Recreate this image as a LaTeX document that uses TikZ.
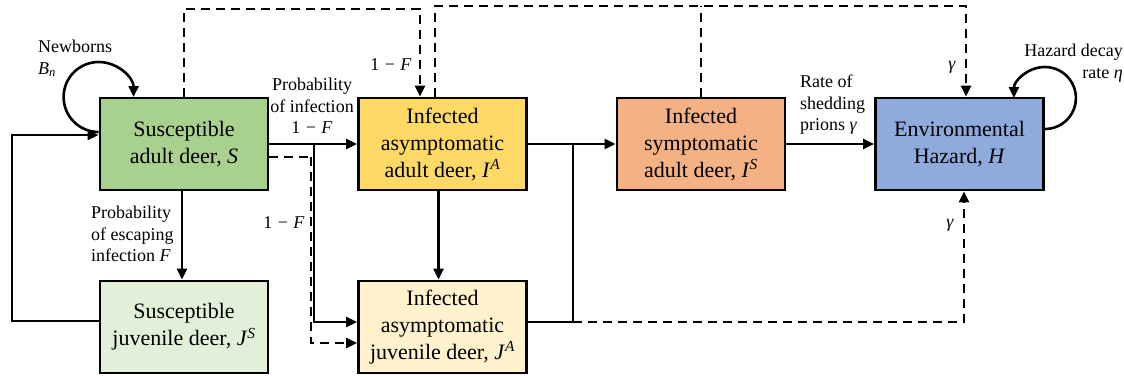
\documentclass[tikz,border=0pt]{standalone}
\usepackage{fontspec}
\setmainfont{Liberation Serif}
\usetikzlibrary{arrows.meta}
\definecolor{cS}{HTML}{A9D18E}
\definecolor{cJS}{HTML}{E2F0D9}
\definecolor{cIA}{HTML}{FFD966}
\definecolor{cJA}{HTML}{FFF2CC}
\definecolor{cIS}{HTML}{F4B183}
\definecolor{cH}{HTML}{8FAADC}
\newcommand{\vi}[1]{\textit{#1}}
\newcommand{\supv}[2]{\textit{#1}\textsuperscript{\textit{#2}}}
\newcommand{\omf}{1\hspace{0.3em}−\hspace{0.3em}\textit{F}}
\begin{document}
\begin{tikzpicture}[x=1pt,y=-1pt,
  box/.style={draw=black, line width=2.8pt, minimum width=168pt, minimum height=92pt, inner sep=0pt, align=center, font=\fontsize{22}{27}\selectfont},
  arr/.style={line width=2.6pt, -{Triangle[length=11pt,width=10pt]}},
  plain/.style={line width=2.6pt},
  dline/.style={line width=2.6pt, dash pattern=on 9pt off 6pt},
  darr/.style={dline, -{Triangle[length=11pt,width=10pt]}},
  lab/.style={font=\fontsize{18}{21.5}\selectfont, inner sep=0pt}]
\useasboundingbox (0,0) rectangle (1124,375);
% boxes
\node[box, fill=cS]  (S)  at (184,144)   {Susceptible\\adult deer, \vi{S}};
\node[box, fill=cJS] (JS) at (184,327)   {Susceptible\\juvenile deer, \supv{J}{S}};
\node[box, fill=cIA] (IA) at (442.5,144) {Infected\\asymptomatic\\adult deer, \supv{I}{A}};
\node[box, fill=cJA] (JA) at (442.5,327) {Infected\\asymptomatic\\juvenile deer, \supv{J}{A}};
\node[box, fill=cIS] (IS) at (701,144)   {Infected\\symptomatic\\adult deer, \supv{I}{S}};
\node[box, fill=cH]  (H)  at (959.5,144) {Environmental\\Hazard, \vi{H}};
% coordinates
\coordinate (b1) at (314,144);
\coordinate (b2) at (311,157);
\coordinate (j2) at (573,144);
\coordinate (j3) at (573,322);
\coordinate (t1) at (420,9);
\coordinate (t2) at (966,6);
\coordinate (lft) at (12,0);
% S -> IA and branches
\draw[arr] (S.east) -- (IA.west);
\draw[arr] (b1) |- ([yshift=5pt]JA.west);
\draw[dline] ([yshift=-13pt]S.east) -- (b2);
\draw[darr] (b2) |- ([yshift=-16pt]JA.west);
% S -> JS
\draw[arr] ([xshift=-2pt]S.south) -- ([xshift=-2pt]JS.north);
% JS -> S
\draw[arr] ([yshift=6pt]JS.west) -| (lft |- S.west) |- ([yshift=9pt]S.west);
% newborn loop
\draw[arr] ([yshift=12pt]S.west) arc[start angle=270, end angle=0, radius=35pt];
% dashed S -> IA top
\draw[darr] (S.north) |- (t1) -- (t1 |- IA.north);
% dashed IA, IS -> H top
\draw[darr] ([xshift=-7.5pt]IA.north) |- (t2) -- (t2 |- H.north);
\draw[dline] (IS.north) -- (IS.north |- t2);
% IA -> IS, JA -> IS
\draw[arr] (IA.east) -- (IS.west);
\draw[plain] ([yshift=5pt]JA.east) -| (j2);
% JA dashed -> H bottom
\draw[darr] (j3) -| ([xshift=4.5pt]H.south);
% IA -> JA
\draw[arr] ([xshift=-4pt]IA.south) -- ([xshift=-4pt]JA.north);
% IS -> H
\draw[arr] (IS.east) -- (H.west);
% hazard loop
\draw[arr] ([yshift=15pt]H.east) arc[start angle=-90, end angle=180, radius=31pt];
% labels
\node[lab, align=left, anchor=north west] (lNb) at (38,40) {Newborns\\\vi{B}\textsubscript{\vi{n}}};
\node[lab, align=center] (lPi) at (312,106) {Probability\\of infection\\\omf};
\node[lab] (l1) at (284,223) {\omf};
\node[lab] (l2) at (391,65) {\omf};
\node[lab, align=left, anchor=west] (lPe) at (91,234) {Probability\\of escaping\\infection \vi{F}};
\node[lab, align=left, anchor=west] (lR) at (800,105) {Rate of\\shedding\\prions \vi{γ}};
\node[lab] (lg1) at (952,67) {\vi{γ}};
\node[lab] (lg2) at (950,225) {\vi{γ}};
\node[lab, align=right, anchor=east] (lHd) at (1123,63) {Hazard decay\\rate \vi{η}};
\end{tikzpicture}
\end{document}
